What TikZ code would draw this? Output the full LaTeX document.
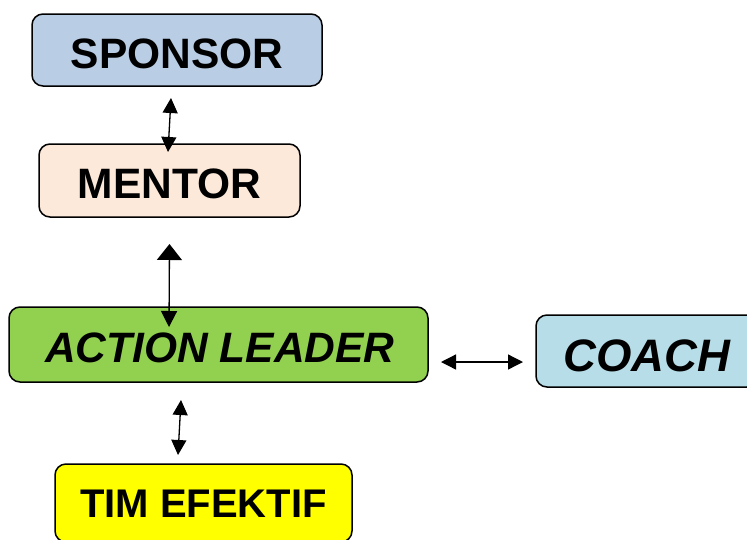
\documentclass[tikz,border=0pt]{standalone}
\usepackage{fontspec}
\setmainfont{Liberation Sans}
\usetikzlibrary{arrows.meta}
\definecolor{sponsorfill}{HTML}{B9CDE5}
\definecolor{mentorfill}{HTML}{FDE9D9}
\definecolor{leaderfill}{HTML}{92D050}
\definecolor{coachfill}{HTML}{B7DEE8}
\definecolor{timfill}{HTML}{FFFF00}
% set a caption with its baseline the given distance below the box centre
\newcommand{\baselineat}[2]{\raisebox{-#1}[0pt][0pt]{#2}}
\tikzset{
  box/.style={draw=black, line width=1.5pt, rounded corners=11pt,
    inner sep=0pt, font=\fontsize{42.5}{42.5}\selectfont\bfseries},
  link/.style={line width=1.3pt,
    {Triangle[width=15pt,length=15pt]}-{Triangle[width=15pt,length=15pt]}},
}
\begin{document}
\begin{tikzpicture}[x=1pt,y=-1pt]
\useasboundingbox (0,0) rectangle (747,539);
\clip (0,0) rectangle (747,539);

% role boxes
\node[box, fill=sponsorfill, minimum width=290pt, minimum height=72pt] (sponsor) at (177,50) {\baselineat{18.2pt}{SPONSOR}};
\node[box, fill=mentorfill, minimum width=261pt, minimum height=73pt] (mentor) at (169.5,180.5) {\baselineat{17.7pt}{MENTOR}};
\node[box, fill=leaderfill, minimum width=419pt, minimum height=75pt] (leader) at (218.5,344.5) {\hspace*{3pt}\baselineat{17.7pt}{\itshape ACTION LEADER}};
\node[box, fill=coachfill, minimum width=222pt, minimum height=72pt,
  font=\fontsize{45.5}{45.5}\selectfont\bfseries\itshape] (coach) at (647,351) {\baselineat{20.3pt}{COACH}};
\node[box, fill=timfill, minimum width=297pt, minimum height=78pt,
  font=\fontsize{40}{40}\selectfont\bfseries] (tim) at (203.5,503) {\baselineat{14.3pt}{TIM EFEKTIF}};

% connector end points
\coordinate (s1) at (171,98);
\coordinate (m1) at (168,152);
\coordinate (m2) at (169.5,244);
\coordinate (l1) at (169,327);
\coordinate (l2) at (441,362);
\coordinate (c1) at (523,362);
\coordinate (l3) at (181,400);
\coordinate (t1) at (178,455);

% connectors
\draw[link] (s1) -- (m1);
\draw[line width=1.3pt, {Triangle[width=25pt,length=16pt]}-{Triangle[width=16pt,length=16pt]}] (m2) -- (l1);
\draw[link] (l2) -- (c1);
\draw[link] (l3) -- (t1);
\end{tikzpicture}
\end{document}
